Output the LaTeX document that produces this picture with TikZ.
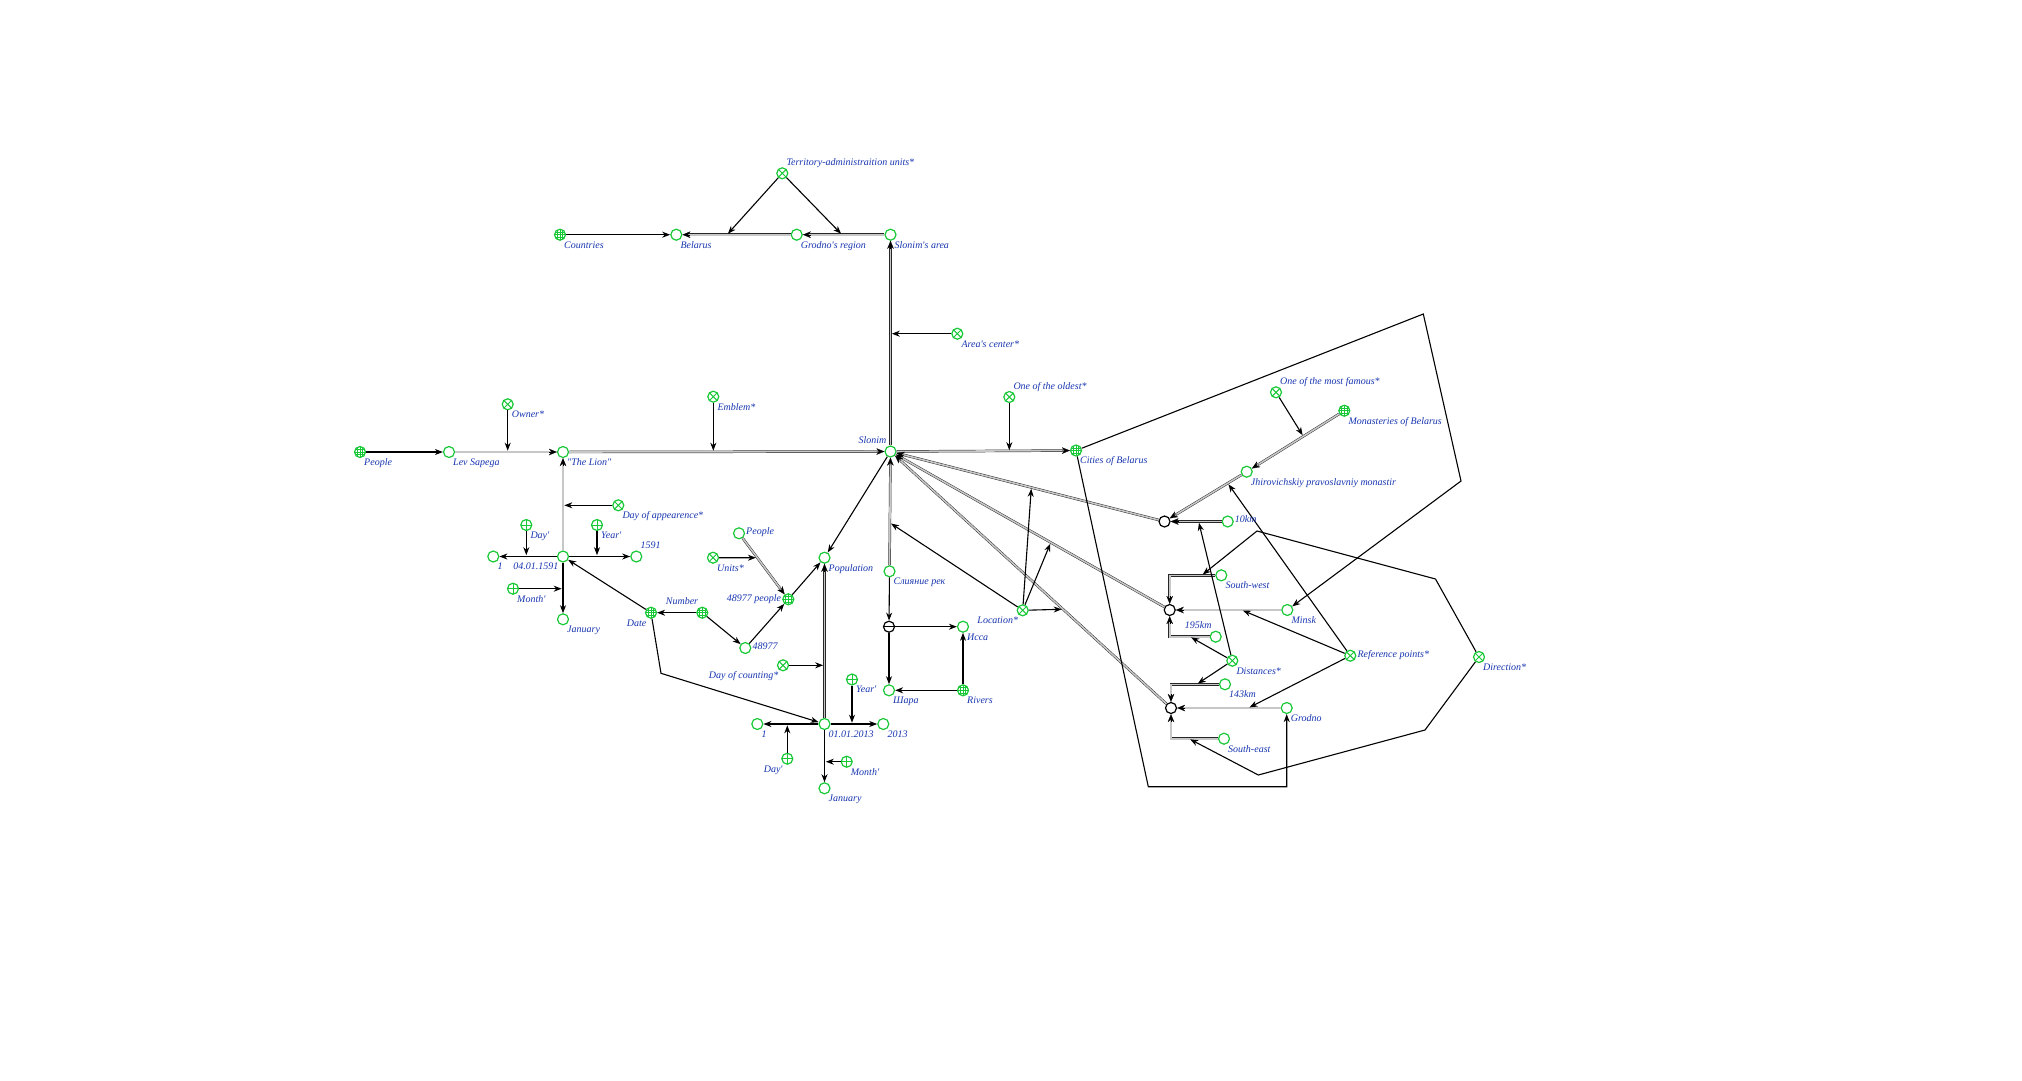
\documentclass[tikz,border=0pt]{standalone}
\usepackage{fontspec}
\newfontfamily\lblfont{Liberation Serif}
\usetikzlibrary{arrows.meta,calc}
\definecolor{ngreen}{RGB}{25,200,55}
\definecolor{tblue}{RGB}{22,52,175}
% double connector with its arrow tip drawn separately
\newcommand\dbllink[2]{\draw[dbl] (#1) -- (#2); \draw[dtip] ($(#2)!14pt!(#1)$) -- (#2);}
\begin{document}
\begin{tikzpicture}[x=1pt,y=-1pt,
  nd/.style={circle,draw=ngreen,line width=1.2pt,fill=white,minimum size=11pt,inner sep=0pt},
  xn/.style={nd,path picture={\draw[ngreen,line width=1pt]
     ([shift={(-4.2pt,-4.2pt)}]path picture bounding box.center) -- ([shift={(4.2pt,4.2pt)}]path picture bounding box.center)
     ([shift={(-4.2pt,4.2pt)}]path picture bounding box.center) -- ([shift={(4.2pt,-4.2pt)}]path picture bounding box.center);}},
  pn/.style={nd,path picture={\draw[ngreen,line width=1pt]
     ([xshift=-6pt]path picture bounding box.center) -- ([xshift=6pt]path picture bounding box.center)
     ([yshift=-6pt]path picture bounding box.center) -- ([yshift=6pt]path picture bounding box.center);}},
  gn/.style={nd,path picture={\draw[ngreen,line width=0.7pt]
     ([shift={(-6pt,-2.6pt)}]path picture bounding box.center) -- ([shift={(6pt,-2.6pt)}]path picture bounding box.center)
     ([xshift=-6pt]path picture bounding box.center) -- ([xshift=6pt]path picture bounding box.center)
     ([shift={(-6pt,2.6pt)}]path picture bounding box.center) -- ([shift={(6pt,2.6pt)}]path picture bounding box.center)
     ([shift={(-2.6pt,-6pt)}]path picture bounding box.center) -- ([shift={(-2.6pt,6pt)}]path picture bounding box.center)
     ([yshift=-6pt]path picture bounding box.center) -- ([yshift=6pt]path picture bounding box.center)
     ([shift={(2.6pt,-6pt)}]path picture bounding box.center) -- ([shift={(2.6pt,6pt)}]path picture bounding box.center);}},
  jn/.style={circle,draw=black,line width=1.2pt,fill=white,minimum size=11pt,inner sep=0pt},
  mn/.style={jn,path picture={\draw[black,line width=1.1pt]
     ([xshift=-6pt]path picture bounding box.center) -- ([xshift=6pt]path picture bounding box.center);}},
  arr/.style={draw=black,line width=1.1pt,-{Stealth[length=8pt,width=6pt,inset=2.5pt]}},
  arrl/.style={arr,shorten >=1.3pt},
  dbl/.style={draw=black!85,line width=0.45pt,double=black!22,double distance=1.6pt,shorten >=4pt},
  dtip/.style={draw=black,line width=0.2pt,-{Stealth[length=8pt,width=6.5pt,inset=2.5pt]}},
  lbl/.style={font={\lblfont\itshape\fontsize{10}{12}\selectfont},text=tblue,inner sep=0pt},
  lse/.style={lbl,anchor=base west,xshift=4pt,yshift=-13.3pt},
  lne/.style={lbl,anchor=base west,xshift=4pt,yshift=8pt},
  le/.style={lbl,anchor=base west,xshift=7pt,yshift=-1.3pt},
  lsw/.style={lbl,anchor=base east,xshift=-4.5pt,yshift=-13.3pt},
  lnw/.style={lbl,anchor=base east,xshift=-4pt,yshift=8.5pt},
  lw/.style={lbl,anchor=base east,xshift=-7pt,yshift=-2.3pt}]

\useasboundingbox (0,0) rectangle (2022,1080);

% ---------- nodes: left part ----------
\node[gn] (people) at (360,452) {};
\node[nd] (lev) at (449,452) {};
\node[xn] (owner) at (507.7,404.3) {};
\node[nd] (lion) at (563,452) {};
\node[xn] (emblem) at (713.3,396.7) {};
\node[xn] (dapp) at (618.3,505.3) {};
\node[pn] (dayA) at (526.3,525) {};
\node[pn] (yearA) at (597,525) {};
\node[nd] (dA) at (563,556.5) {};
\node[nd] (oneA) at (493.3,556.5) {};
\node[nd] (yrA) at (636.3,556.5) {};
\node[pn] (monthA) at (513,588.7) {};
\node[nd] (janA) at (563,619.3) {};
\node[gn] (date) at (651,612.7) {};
\node[gn] (number) at (702.3,612.7) {};
\node[xn] (units) at (713,557.7) {};
\node[nd] (peopleB) at (739,533.3) {};
\node[nd] (n48977) at (745.3,648) {};
\node[gn] (p48977) at (788.3,599.3) {};
\node[xn] (dcount) at (783,665.3) {};
\node[nd] (pop) at (824.5,557.7) {};

% ---------- nodes: top ----------
\node[xn] (territory) at (782.3,173.3) {};
\node[gn] (countries) at (560,234.7) {};
\node[nd] (belarus) at (676.3,234.7) {};
\node[nd] (grodreg) at (796.7,234.7) {};
\node[nd] (slarea) at (890.5,234.7) {};
\node[xn] (areac) at (957.3,333.7) {};
\node[nd] (slonim) at (890.5,451.5) {};
\node[xn] (oldest) at (1009.3,397) {};
\node[gn] (cities) at (1076,450.5) {};

% ---------- nodes: rivers and dates ----------
\node[nd] (sliyanie) at (889.5,571.3) {};
\node[mn] (theta) at (889,626.7) {};
\node[nd] (issa) at (963,626.7) {};
\node[nd] (shara) at (889,690.3) {};
\node[gn] (rivers) at (963,690.3) {};
\node[xn] (location) at (1022.7,610.3) {};
\node[nd] (dB) at (824.5,724) {};
\node[nd] (oneB) at (757.3,724) {};
\node[nd] (yrB) at (883.3,724) {};
\node[pn] (yearB) at (852,679.5) {};
\node[pn] (dayB) at (787.3,758.7) {};
\node[pn] (monthB) at (846.7,761.7) {};
\node[nd] (janB) at (824.5,788.3) {};
\coordinate (dcorner) at (661,673.3);

% ---------- nodes: right part ----------
\node[xn] (famous) at (1276,392.3) {};
\node[gn] (monast) at (1344.3,410.7) {};
\node[nd] (jhir) at (1246.7,471.7) {};
\node[jn] (j1) at (1164.5,521.5) {};
\node[nd] (tenkm) at (1227.7,521.5) {};
\node[nd] (swest) at (1221.3,575.3) {};
\node[jn] (j2) at (1169.7,610) {};
\node[nd] (minsk) at (1287.3,610) {};
\node[nd] (km195) at (1215.7,636.7) {};
\node[xn] (dist) at (1232.3,660.7) {};
\node[nd] (km143) at (1225,684.3) {};
\node[jn] (j3) at (1171,708) {};
\node[nd] (grodno) at (1286.7,708) {};
\node[nd] (seast) at (1224,738.7) {};
\node[xn] (refp) at (1350.3,655.7) {};
\node[xn] (direction) at (1479,657) {};
\coordinate (cA) at (1423.3,314);
\coordinate (cB) at (1461,481);
\coordinate (cC) at (1148.3,786.7);
\coordinate (dirA) at (1435.5,579);
\coordinate (dirB) at (1257,531);
\coordinate (dirC) at (1425,730);
\coordinate (dirD) at (1258.3,775);
\coordinate (t1) at (727,234.7);
\coordinate (t2) at (842,234.7);
\coordinate (swp) at (1201.7,575.3);
\coordinate (sep) at (1189,738.7);

% ---------- double connectors ----------
\dbllink{lev}{lion}
\dbllink{lion}{slonim}
\dbllink{slonim}{cities}
\dbllink{slonim}{slarea}
\dbllink{slarea}{grodreg}
\dbllink{grodreg}{belarus}
\dbllink{dA}{lion}
\dbllink{peopleB}{p48977}
\dbllink{dB}{pop}
\dbllink{sliyanie}{slonim}
\dbllink{j1}{slonim}
\dbllink{j2}{slonim}
\dbllink{j3}{slonim}
\dbllink{monast}{jhir}
\dbllink{jhir}{j1}
\dbllink{tenkm}{j1}
\dbllink{minsk}{j2}
\dbllink{grodno}{j3}
\draw[dbl] (swest) -| (j2); \draw[dtip] ([yshift=14pt]j2.center) -- (j2);
\draw[dbl] (km195) -| (j2); \draw[dtip] ([yshift=-14pt]j2.center) -- (j2);
\draw[dbl] (km143) -| (j3); \draw[dtip] ([yshift=14pt]j3.center) -- (j3);
\draw[dbl] (seast) -| (j3); \draw[dtip] ([yshift=-14pt]j3.center) -- (j3);

% ---------- single connectors ----------
\draw[arr] (people) -- (lev);
\draw[arrl] (owner) -- (owner |- lev);
\draw[arrl] (emblem) -- (emblem |- lion);
\draw[arr] (countries) -- (belarus);
\draw[arrl] (territory) -- (t1);
\draw[arrl] (territory) -- (t2);
\draw[arrl] (areac) -- (slonim |- areac);
\draw[arrl] (oldest) -- (oldest |- slonim);
\draw[arrl] (dapp) -- (lion |- dapp);
\draw[arr] (dA) -- (oneA);
\draw[arr] (dA) -- (yrA);
\draw[arr] (dA) -- (janA);
\draw[arrl] (dayA) -- (dayA |- dA);
\draw[arrl] (yearA) -- (yearA |- dA);
\draw[arrl] (monthA) -- (dA |- monthA);
\draw[arr] (date) -- (dA);
\draw[arr] (date) -- (dcorner) -- (dB);
\draw[arr] (number) -- (date);
\draw[arr] (number) -- (n48977);
\draw[arr] (n48977) -- (p48977);
\draw[arr] (p48977) -- (pop);
\draw[arrl] (units) -- ($(peopleB)!0.37!(p48977)$);
\draw[arr] (slonim) -- (pop);
\draw[arrl] (dcount) -- (pop |- dcount);
\draw[arr] (dB) -- (oneB);
\draw[arr] (dB) -- (yrB);
\draw[arr] (dB) -- (janB);
\draw[arrl] (yearB) -- (yearB |- dB);
\draw[arrl] (dayB) -- (dayB |- dB);
\draw[arrl] (monthB) -- (dB |- monthB);
\draw[arr] (sliyanie) -- (theta);
\draw[arr] (theta) -- (issa);
\draw[arr] (theta) -- (shara);
\draw[arr] (rivers) -- (shara);
\draw[arr] (rivers) -- (issa);
\draw[arrl] (location) -- ($(slonim)!0.595!(sliyanie)$);
\draw[arrl] (location) -- ($(slonim)!0.514!(j1)$);
\draw[arrl] (location) -- ($(slonim)!0.574!(j2)$);
\draw[arrl] (location) -- ($(slonim)!0.615!(j3)$);
\draw[arrl] (famous) -- ($(monast)!0.42!(jhir)$);
\draw[arrl] (dist) -- ($(tenkm)!0.46!(j1)$);
\draw[arrl] (dist) -- (1190,636.7);
\draw[arrl] (dist) -- (1196.7,684.3);
\draw[arrl] (refp) -- ($(jhir)!0.231!(j1)$);
\draw[arrl] (refp) -- (1241.7,610);
\draw[arrl] (refp) -- (1248.3,708);
\draw[arrl] (direction) -- (dirA) -- (dirB) -- (swp);
\draw[arrl] (direction) -- (dirC) -- (dirD) -- (sep);
\draw[arr] (cities) -- (cA) -- (cB) -- (minsk);
\draw[arr] (cities) -- (cC) -| (grodno);

% ---------- labels ----------
\node[lse] at (people) {People};
\node[lse] at (lev) {Lev Sapega};
\node[lse] at (owner) {Owner*};
\node[lse] at (lion) {"The Lion"};
\node[lse] at (emblem) {Emblem*};
\node[lse] at (dapp) {Day of appearence*};
\node[lse] at (dayA) {Day'};
\node[lse] at (yearA) {Year'};
\node[lne] at (yrA) {1591};
\node[lse] at (oneA) {1};
\node[lsw] at (dA) {04.01.1591};
\node[lse] at (monthA) {Month'};
\node[lse] at (janA) {January};
\node[lsw] at (date) {Date};
\node[lnw] at (number) {Number};
\node[lse] at (units) {Units*};
\node[le] at (peopleB) {People};
\node[le] at (n48977) {48977};
\node[lw] at (p48977) {48977 people};
\node[lsw] at (dcount) {Day of counting*};
\node[lse] at (pop) {Population};
\node[lne] at (territory) {Territory-administraition units*};
\node[lse] at (countries) {Countries};
\node[lse] at (belarus) {Belarus};
\node[lse] at (grodreg) {Grodno's region};
\node[lse] at (slarea) {Slonim's area};
\node[lse] at (areac) {Area's center*};
\node[lnw] at (slonim) {Slonim};
\node[lne] at (oldest) {One of the oldest*};
\node[lse] at (cities) {Cities of Belarus};
\node[lse] at (sliyanie) {Слияние рек};
\node[lse] at (issa) {Исса};
\node[lse] at (shara) {Шара};
\node[lse] at (rivers) {Rivers};
\node[lsw] at (location) {Location*};
\node[lse] at (dB) {01.01.2013};
\node[lse] at (oneB) {1};
\node[lse] at (yrB) {2013};
\node[lse] at (yearB) {Year'};
\node[lsw] at (dayB) {Day'};
\node[lse] at (monthB) {Month'};
\node[lse] at (janB) {January};
\node[lne] at (famous) {One of the most famous*};
\node[lse] at (monast) {Monasteries of Belarus};
\node[lse] at (jhir) {Jhirovichskiy pravoslavniy monastir};
\node[le] at (tenkm) {10km};
\node[lse] at (swest) {South-west};
\node[lse] at (minsk) {Minsk};
\node[lnw] at (km195) {195km};
\node[lse] at (dist) {Distances*};
\node[lse] at (km143) {143km};
\node[lse] at (grodno) {Grodno};
\node[lse] at (seast) {South-east};
\node[le] at (refp) {Reference points*};
\node[lse] at (direction) {Direction*};
\end{tikzpicture}
\end{document}
